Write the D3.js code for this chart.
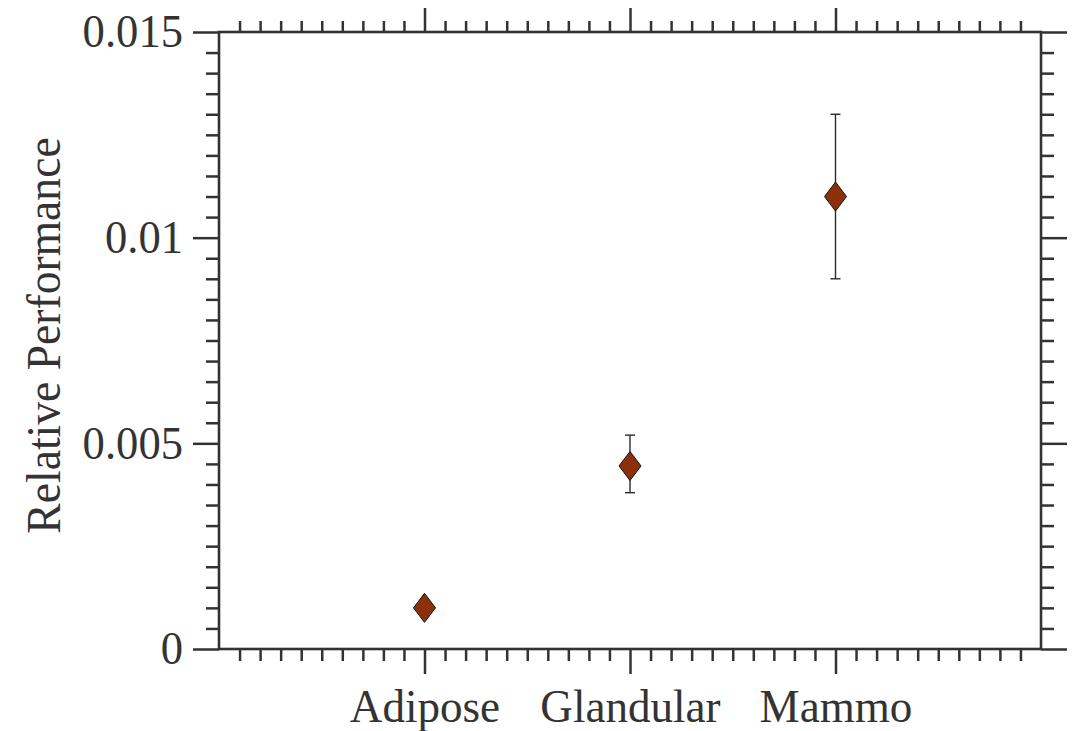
<!DOCTYPE html>
<html>
<head>
<meta charset="utf-8">
<script src="https://cdn.jsdelivr.net/npm/d3@7"></script>
<style>
  html, body { margin: 0; padding: 0; background: #fff; }
  svg { display: block; }
</style>
</head>
<body>
<svg id="chart" width="1074" height="731"></svg>
<script>
// Measured values per tissue type
const categories = ["Adipose", "Glandular", "Mammo"];
const values     = [0.001, 0.00445, 0.011];
const errLow     = [null, 0.0038, 0.009];
const errHigh    = [null, 0.0052, 0.013];
const yTickValues = [0, 0.005, 0.01, 0.015];
const yTickLabels = ["0", "0.005", "0.01", "0.015"];
const yAxisTitle = "Relative Performance";

const plotL = 219, plotR = 1041, plotT = 32, plotB = 649;
const ink = "#333333";
const serif = '"Liberation Serif", "Times New Roman", Times, serif';

const svg = d3.select("#chart");

// categories sit at 1, 2, 3 on a 0..4 axis
const x = d3.scaleLinear().domain([0, categories.length + 1]).range([plotL, plotR]);
const y = d3.scaleLinear().domain([0, 0.015]).range([plotB, plotT]);

const minorX = d3.range(1, 40).filter(i => i % 10 !== 0).map(i => i / 10);
const minorY = d3.range(1, 30).filter(i => i % 10 !== 0).map(i => i * 0.0005);

// narrow the glyphs a little along the reading direction
function condense(sel, k) {
  sel.each(function () {
    const len = this.getComputedTextLength();
    d3.select(this).attr("textLength", len * k).attr("lengthAdjust", "spacingAndGlyphs");
  });
}

function styleAxis(g, width) {
  g.select(".domain").remove();
  g.selectAll(".tick line").attr("stroke", ink).attr("stroke-width", width);
}

// left: major ticks with labels, minor ticks
const gL = svg.append("g").attr("transform", `translate(${plotL},0)`)
  .call(d3.axisLeft(y).tickValues(yTickValues).tickSize(26).tickPadding(10)
    .tickFormat((d, i) => yTickLabels[i]));
styleAxis(gL, 2.5);
gL.selectAll(".tick text").style("font-family", serif).style("font-size", "46px").attr("fill", ink)
  .call(condense, 0.97);
svg.append("g").attr("transform", `translate(${plotL},0)`)
  .call(d3.axisLeft(y).tickValues(minorY).tickSize(13).tickFormat(""))
  .call(g => styleAxis(g, 2.5));

// right: mirrored ticks, no labels
svg.append("g").attr("transform", `translate(${plotR},0)`)
  .call(d3.axisRight(y).tickValues(yTickValues).tickSize(26).tickFormat(""))
  .call(g => styleAxis(g, 2.5));
svg.append("g").attr("transform", `translate(${plotR},0)`)
  .call(d3.axisRight(y).tickValues(minorY).tickSize(13).tickFormat(""))
  .call(g => styleAxis(g, 2.5));

// bottom: category labels
const gB = svg.append("g").attr("transform", `translate(0,${plotB})`)
  .call(d3.axisBottom(x).tickValues(d3.range(1, categories.length + 1)).tickSize(25).tickPadding(15)
    .tickFormat((d, i) => categories[i]));
styleAxis(gB, 2.5);
gB.selectAll(".tick text").style("font-family", serif).style("font-size", "46px").attr("fill", ink)
  .call(condense, 0.98);
svg.append("g").attr("transform", `translate(0,${plotB})`)
  .call(d3.axisBottom(x).tickValues(minorX).tickSize(12).tickFormat(""))
  .call(g => styleAxis(g, 2.5));

// top: mirrored ticks
svg.append("g").attr("transform", `translate(0,${plotT})`)
  .call(d3.axisTop(x).tickValues(d3.range(1, categories.length + 1)).tickSize(24).tickFormat(""))
  .call(g => styleAxis(g, 2.5));
svg.append("g").attr("transform", `translate(0,${plotT})`)
  .call(d3.axisTop(x).tickValues(minorX).tickSize(11).tickFormat(""))
  .call(g => styleAxis(g, 2.5));

// frame
svg.append("rect")
  .attr("x", plotL).attr("y", plotT)
  .attr("width", plotR - plotL).attr("height", plotB - plotT)
  .attr("fill", "none").attr("stroke", ink).attr("stroke-width", 2.6);

// y-axis title
svg.append("text")
  .attr("transform", `translate(60,${(plotT + plotB) / 2 - 5}) rotate(-90)`)
  .attr("text-anchor", "middle")
  .style("font-family", serif)
  .style("font-size", "48px")
  .attr("fill", ink)
  .text(yAxisTitle)
  .call(condense, 0.95);

// error bars
const pts = categories.map((c, i) => ({ c, i, v: values[i], lo: errLow[i], hi: errHigh[i] }));
const eb = svg.append("g").attr("stroke", "#2a2a2a").attr("stroke-width", 1.4).attr("fill", "none");
pts.filter(d => d.lo != null).forEach(d => {
  const cx = x(d.i + 1);
  eb.append("line").attr("x1", cx).attr("x2", cx).attr("y1", y(d.lo)).attr("y2", y(d.hi));
  eb.append("line").attr("x1", cx - 5).attr("x2", cx + 5).attr("y1", y(d.lo)).attr("y2", y(d.lo));
  eb.append("line").attr("x1", cx - 5).attr("x2", cx + 5).attr("y1", y(d.hi)).attr("y2", y(d.hi));
});

// diamond markers
const hw = 11, hh = 14.5;
svg.append("g").selectAll("path").data(pts).join("path")
  .attr("transform", d => `translate(${x(d.i + 1)},${y(d.v)})`)
  .attr("d", `M0,${-hh}L${hw},0L0,${hh}L${-hw},0Z`)
  .attr("fill", "#8c300a")
  .attr("stroke", "#111")
  .attr("stroke-width", 1);
</script>
</body>
</html>
